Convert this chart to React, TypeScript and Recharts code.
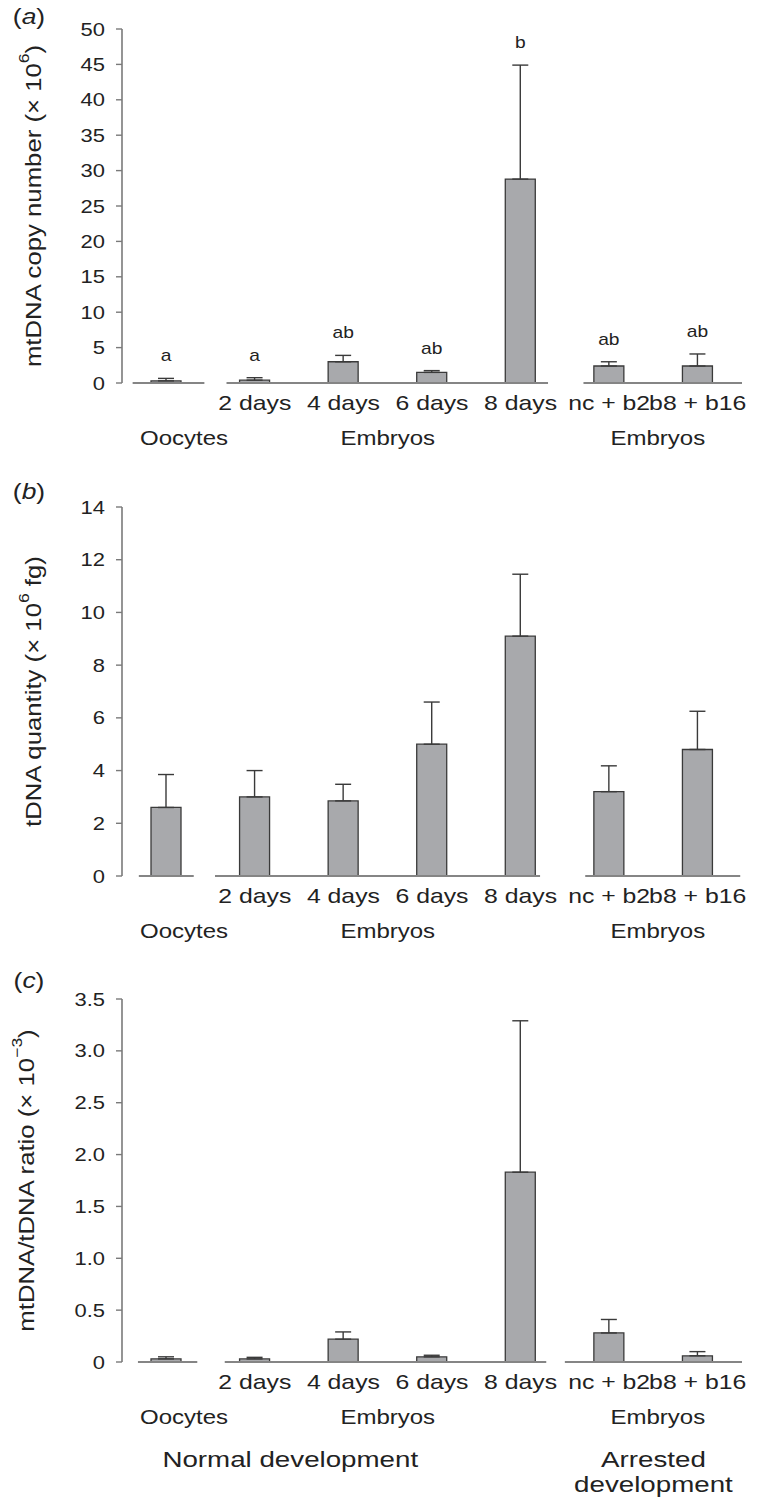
import React from "react";
import { BarChart, Bar, XAxis, YAxis, ErrorBar, LabelList, ReferenceLine } from "recharts";

const categoryKeys = ["oocytes", "d2", "d4", "d6", "d8", "ncb2", "b8b16"];
const tickLabels = ["", "2 days", "4 days", "6 days", "8 days", "nc + b2", "b8 + b16"];

// (a) mtDNA copy number (x 10^6)
const mtdnaMean = [0.3, 0.4, 3.0, 1.5, 28.8, 2.4, 2.4];
const mtdnaErr = [0.35, 0.35, 0.9, 0.25, 16.1, 0.6, 1.7];
const mtdnaLetters = ["a", "a", "ab", "ab", "b", "ab", "ab"];
const mtdnaTicks = [0, 5, 10, 15, 20, 25, 30, 35, 40, 45, 50];

// (b) tDNA quantity (x 10^6 fg)
const tdnaMean = [2.6, 3.0, 2.85, 5.0, 9.1, 3.2, 4.8];
const tdnaErr = [1.25, 1.0, 0.63, 1.6, 2.35, 0.98, 1.45];
const tdnaTicks = [0, 2, 4, 6, 8, 10, 12, 14];

// (c) mtDNA/tDNA ratio (x 10^-3)
const ratioMean = [0.03, 0.03, 0.22, 0.05, 1.83, 0.28, 0.06];
const ratioErr = [0.02, 0.015, 0.07, 0.015, 1.46, 0.13, 0.04];
const ratioTicks = [0, 0.5, 1.0, 1.5, 2.0, 2.5, 3.0, 3.5];

// group captions, placed on a 0..7 scale matching the 7 category bands
const groupLabels = ["Oocytes", "Embryos", "Embryos"];
const groupPos = [0.7, 3.0, 6.05];
const devLabels = [["Normal development"], ["Arrested", "development"]];
const devPos = [1.9, 6.0];

const FONT = "'Liberation Sans', Arial, Helvetica, sans-serif";
const TEXT = "#222";
const AXIS = "#7a7a7a";
const SX = 1.24;

function SText({ x, y, size, anchor = "middle", rotate = 0, sx = SX, baseline, children }: any) {
  const t = `translate(${x} ${y})${rotate ? ` rotate(${rotate})` : ""} scale(${sx} 1)`;
  return (
    <text transform={t} x={0} y={0} fontSize={size} textAnchor={anchor} fill={TEXT}
      fontFamily={FONT} dominantBaseline={baseline}>
      {children}
    </text>
  );
}

const CatTick = (p: any) => {
  const i = categoryKeys.indexOf(p.payload.value);
  return <SText x={p.x} y={p.y + 27} size={20}>{tickLabels[i]}</SText>;
};

const GroupTick = (p: any) => {
  const i = groupPos.indexOf(p.payload.value);
  return <SText x={p.x} y={p.y + 29} size={20} sx={1.2}>{groupLabels[i]}</SText>;
};

const DevTick = (p: any) => {
  const i = devPos.indexOf(p.payload.value);
  const lines = devLabels[i] || [];
  return (
    <g>
      {lines.map((l, k) => (
        <SText key={k} x={p.x} y={p.y + 39 + k * 25} size={22} sx={1.26}>{l}</SText>
      ))}
    </g>
  );
};

const SigLabel = (p: any) => {
  const vb = p.viewBox && p.viewBox.height !== undefined ? p.viewBox : p;
  const { x, y, width, height } = vb;
  const i = p.index;
  const ppu = height / mtdnaMean[i];
  const errTop = y - mtdnaErr[i] * ppu;
  return <SText x={x + width / 2} y={errTop - 17} size={16} sx={1.2}>{mtdnaLetters[i]}</SText>;
};

function makeYLabel(parts: { t: string; sup?: boolean }[], dx: number, letter: string, letterDx: number, letterDy: number) {
  return (p: any) => {
    const vb = p.viewBox;
    const axisX = vb.x + vb.width;
    const cy = vb.y + vb.height / 2;
    const fs = 22;
    let shift = 0;
    return (
      <g>
        <SText x={axisX - letterDx} y={vb.y + letterDy} size={22} sx={1.2}>
          (<tspan fontStyle="italic">{letter}</tspan>)
        </SText>
        <SText x={axisX - dx} y={cy} size={fs} rotate={-90} sx={1.17} baseline="central">
          {parts.map((pt, k) => {
            const target = pt.sup ? -0.42 * fs : 0;
            const dy = target - shift;
            shift = target;
            return (
              <tspan key={k} dy={dy} fontSize={pt.sup ? fs * 0.68 : fs}>{pt.t}</tspan>
            );
          })}
        </SText>
      </g>
    );
  };
}

const yFmt = (dec: boolean) => (v: number) => (v === 0 ? "0" : dec ? v.toFixed(1) : String(v));

function Panel({ cfg }: any) {
  // pos = band centre on the 0..7 scale used by captions and the broken baseline
  const data = categoryKeys.map((k, i) => ({ key: k, pos: i + 0.5, v: cfg.mean[i], err: [0, cfg.err[i]] }));
  const fmt = yFmt(cfg.decimals);
  return (
    <div style={{ position: "absolute", left: 0, top: cfg.top }}>
      <BarChart width={762} height={cfg.height} data={data}
        margin={{ top: cfg.marginTop, right: 20, left: 62, bottom: cfg.marginBottom }}>
        <XAxis xAxisId="a_cat" dataKey="key" axisLine={false} tickLine={false} tickSize={0}
          tickMargin={0} height={33} interval={0} tick={CatTick} />
        <XAxis xAxisId="b_grp" dataKey="pos" type="number" domain={[0, 7]} allowDataOverflow
          ticks={groupPos} interval={0} axisLine={false} tickLine={false} tickSize={0} tickMargin={0}
          height={33} tick={GroupTick} />
        {cfg.dev && (
          <XAxis xAxisId="c_dev" dataKey="pos" type="number" domain={[0, 7]} allowDataOverflow
            ticks={devPos} interval={0} axisLine={false} tickLine={false} tickSize={0} tickMargin={0}
            height={73} tick={DevTick} />
        )}
        <YAxis width={60} domain={[cfg.ticks[0], cfg.ticks[cfg.ticks.length - 1]]} ticks={cfg.ticks}
          interval={0} allowDataOverflow axisLine={{ stroke: AXIS, strokeWidth: 1.6 }}
          tickLine={{ stroke: AXIS, strokeWidth: 1.4 }} tickSize={6} tickMargin={11}
          tick={(p: any) => (
            <SText x={p.x} y={p.y + 6.5} size={18} anchor="end" sx={1.22}>{fmt(p.payload.value)}</SText>
          )}
          label={makeYLabel(cfg.yLabel, cfg.labelDx, cfg.letter, 93, cfg.letterDy)} />
        {cfg.segments.map((s: number[], k: number) => (
          <ReferenceLine key={k} xAxisId="b_grp" ifOverflow="visible"
            segment={[{ x: s[0], y: 0 }, { x: s[1], y: 0 }]} stroke="#858585" strokeWidth={2} />
        ))}
        <Bar xAxisId="a_cat" dataKey="v" barSize={30} fill="#a8a9ac" stroke="#3a3a3a" strokeWidth={1.3}
          isAnimationActive={false}>
          <ErrorBar dataKey="err" direction="y" width={8} stroke="#3a3a3a" strokeWidth={1.4}
            isAnimationActive={false} />
          {cfg.letters && <LabelList content={SigLabel} />}
        </Bar>
      </BarChart>
    </div>
  );
}

const panels = [
  {
    top: 0, height: 454, marginTop: 29, marginBottom: 5, mean: mtdnaMean, err: mtdnaErr,
    ticks: mtdnaTicks, decimals: false, letters: true, letter: "a", letterDy: -5, labelDx: 89,
    yLabel: [{ t: "mtDNA copy number (× 10" }, { t: "6", sup: true }, { t: ")" }],
    segments: [[0.12, 0.93], [1.18, 4.81], [5.21, 7.0]],
  },
  {
    top: 470, height: 477, marginTop: 37, marginBottom: 5, mean: tdnaMean, err: tdnaErr,
    ticks: tdnaTicks, decimals: false, letters: false, letter: "b", letterDy: -8, labelDx: 89,
    yLabel: [{ t: "tDNA quantity (× 10" }, { t: "6", sup: true }, { t: " fg)" }],
    segments: [[0.19, 0.81], [1.05, 4.72], [5.23, 6.98]],
  },
  {
    top: 960, height: 541, marginTop: 39, marginBottom: 0, mean: ratioMean, err: ratioErr,
    ticks: ratioTicks, decimals: true, letters: false, letter: "c", letterDy: -11, labelDx: 96,
    dev: true,
    yLabel: [{ t: "mtDNA/tDNA ratio (× 10" }, { t: "−3", sup: true }, { t: ")" }],
    segments: [[0.18, 0.85], [1.16, 4.79], [5.0, 7.0]],
  },
];

export default function App() {
  return (
    <div style={{ position: "absolute", left: 0, top: 0, width: 762, height: 1501, background: "#fff" }}>
      {panels.map((cfg, k) => (
        <Panel key={k} cfg={cfg} />
      ))}
    </div>
  );
}
